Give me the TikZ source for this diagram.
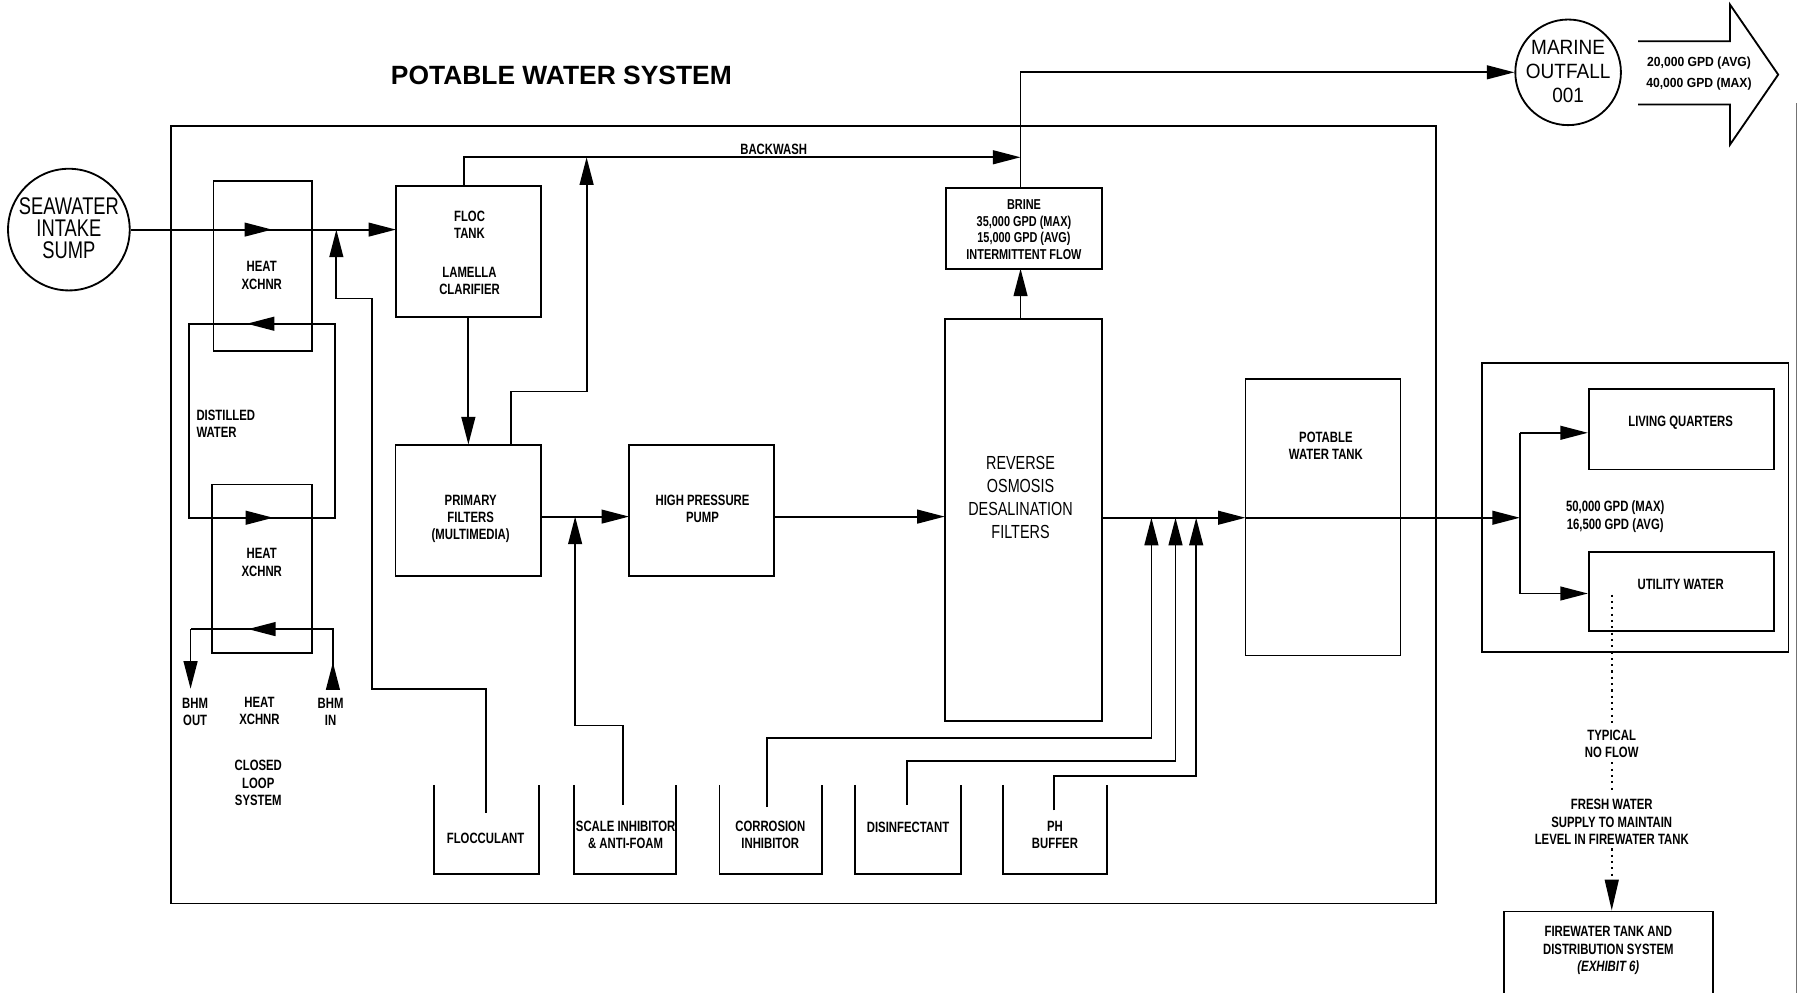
\documentclass[tikz,border=0pt]{standalone}
\usepackage{fontspec}
\setmainfont{Liberation Sans}
\newfontfamily\cad[FakeStretch=0.76]{Liberation Sans}
\newfontfamily\cadw[FakeStretch=0.92]{Liberation Sans}
\usetikzlibrary{arrows.meta,calc}
\tikzset{
  ln/.style={line width=1.6pt},
  arr/.style={line width=1.6pt, -{Triangle[length=24pt,width=12pt]}},
  bx/.style={draw, line width=1.6pt, inner sep=0pt},
  hid/.style={inner sep=0pt},
  lbl/.style={font=\cad\bfseries\fontsize{13}{15}\selectfont, align=center, inner sep=0pt},
  sml/.style={font=\cad\bfseries\fontsize{12.5}{14.5}\selectfont, align=center, inner sep=0pt},
  tinytxt/.style={font=\cadw\bfseries\fontsize{11.5}{18}\selectfont, align=center, inner sep=0pt},
  bigtxt/.style={font=\cad\fontsize{21}{19}\selectfont, align=center, inner sep=0pt},
  midtxt/.style={font=\cad\fontsize{16.5}{20}\selectfont, align=center, inner sep=0pt},
  outtxt/.style={font=\cadw\fontsize{18}{21}\selectfont, align=center, inner sep=0pt},
  ttl/.style={font=\bfseries\fontsize{23}{26}\selectfont, inner sep=0pt},
  dotline/.style={line width=1.9pt, dash pattern=on 1.9pt off 3.6pt},
}
\begin{document}
\begin{tikzpicture}[x=1pt,y=-1pt]
\useasboundingbox (0,0) rectangle (1568,865);
\fill[white] (0,0) rectangle (1568,865);

% scan edge
\draw[line width=0.8pt, black!55] (1565,90) -- (1565,865);

% title
\node[ttl] (title) at (489,66) {POTABLE WATER SYSTEM};

% main frame
\node[bx, minimum width=1102pt, minimum height=677pt] (frame) at (700,448.5) {};

% seawater intake
\node[circle, draw, line width=1.6pt, minimum size=106pt, inner sep=0pt] (sw) at (60,200) {};
\node[bigtxt] (swt) at (60,199) {SEAWATER\\INTAKE\\SUMP};

% heat exchangers
\node[bx, minimum width=86pt, minimum height=148pt] (hx1) at (229,232) {};
\node[lbl] (hx1t) at (228,240) {HEAT\\XCHNR};
\node[bx, minimum width=87pt, minimum height=147pt] (hx2) at (228.5,495.5) {};
\node[lbl] (hx2t) at (228,490) {HEAT\\XCHNR};

% distilled water loop
\coordinate (d1) at (165,282);
\coordinate (d2) at (292,282);
\coordinate (d3) at (292,451);
\coordinate (d4) at (165,451);
\draw[ln] (d1) -- (d4) -- (d3) -- (d2) -- cycle;
\coordinate (d1a) at (240,282); \coordinate (d1b) at (215,282);
\draw[arr] (d1a) -- (d1b);
\coordinate (d4a) at (214,451); \coordinate (d4b) at (238,451);
\draw[arr] (d4a) -- (d4b);
\node[lbl, anchor=west, align=left] (dw) at (171,369) {DISTILLED\\WATER};

% BHM closed loop
\coordinate (bin) at (290,600);
\coordinate (bin2) at (290,548);
\coordinate (bout2) at (166,548);
\coordinate (bout) at (166,600);
\draw[ln] (bin) -- (bin2) -- (bout2);
\draw[arr] (bout2) -- (bout);
\coordinate (bm1) at (240,548); \coordinate (bm2) at (216,548);
\draw[arr] (bm1) -- (bm2);
\coordinate (bin3) at (290,577);
\draw[arr] (bin) -- (bin3);
\node[lbl] (boutt) at (170,620) {BHM\\OUT};
\node[lbl] (hx3t) at (226,619) {HEAT\\XCHNR};
\node[lbl] (bint) at (288,620) {BHM\\IN};
\node[lbl] (cls) at (225,682) {CLOSED\\LOOP\\SYSTEM};

% floc tank and filters
\node[bx, minimum width=126pt, minimum height=114pt] (floc) at (408,219) {};
\node[lbl] (floct1) at (409,196) {FLOC\\TANK};
\node[lbl] (floct2) at (409,245) {LAMELLA\\CLARIFIER};
\node[bx, minimum width=127pt, minimum height=114pt] (prim) at (408,445) {};
\node[lbl] (primt) at (410,452) {PRIMARY\\FILTERS\\(MULTIMEDIA)};
\node[bx, minimum width=126pt, minimum height=114pt] (hp) at (611,445) {};
\node[lbl] (hpt) at (612,443) {HIGH PRESSURE\\PUMP};

% seawater line
\coordinate (swin) at (345,200);
\coordinate (sm1) at (213,200); \coordinate (sm2) at (237,200);
\draw[arr] (sw.east) -- (swin);
\draw[arr] (sm1) -- (sm2);

% chemical tanks (open top)
\node[hid, minimum width=91pt, minimum height=77pt] (flc) at (423.5,722.5) {};
\node[hid, minimum width=89pt, minimum height=77pt] (sca) at (544.5,722.5) {};
\node[hid, minimum width=89pt, minimum height=77pt] (cor) at (671.5,722.5) {};
\node[hid, minimum width=92pt, minimum height=77pt] (dis) at (791,722.5) {};
\node[hid, minimum width=90pt, minimum height=77pt] (phb) at (919,722.5) {};
\foreach \t in {flc,sca,cor,dis,phb}{
  \draw[ln] (\t.north west) -- (\t.south west) -- (\t.south east) -- (\t.north east);
}
\node[lbl] (flct) at (423,730) {FLOCCULANT};
\node[lbl] (scat) at (545,727) {SCALE INHIBITOR\\\& ANTI-FOAM};
\node[lbl] (cort) at (671,727) {CORROSION\\INHIBITOR};
\node[lbl] (dist) at (791,721) {DISINFECTANT};
\node[lbl] (phbt) at (919,727) {PH\\BUFFER};

% flocculant feed
\coordinate (f1) at (423,708);
\coordinate (f2) at (423,600);
\coordinate (f3) at (324,600);
\coordinate (f4) at (324,260);
\coordinate (f5) at (293,260);
\coordinate (f6) at (293,200);
\draw[arr] (f1) -- (f2) -- (f3) -- (f4) -- (f5) -- (f6);

% floc -> primary
\draw[arr] (floc.south) -- (prim.north);

% primary -> HP pump
\coordinate (p1) at (471.5,450);
\coordinate (p2) at (548,450);
\draw[arr] (p1) -- (p2);
% scale inhibitor feed
\coordinate (s1) at (543,701);
\coordinate (s2) at (543,632);
\coordinate (s3) at (501,632);
\coordinate (s4) at (501,450);
\draw[arr] (s1) -- (s2) -- (s3) -- (s4);

% RO unit
\node[bx, minimum width=137pt, minimum height=350pt] (ro) at (891.5,453) {};
\node[midtxt] (rot) at (889,433) {REVERSE\\OSMOSIS\\DESALINATION\\FILTERS};
\coordinate (h1) at (674,450);
\coordinate (h2) at (823,450);
\draw[arr] (h1) -- (h2);

% brine
\node[bx, minimum width=136pt, minimum height=70pt] (brine) at (892,199) {};
\node[sml] (brinet) at (892,200) {BRINE\\35,000 GPD (MAX)\\15,000 GPD (AVG)\\INTERMITTENT FLOW};
\coordinate (r1) at (889,278);
\coordinate (r2) at (889,234);
\draw[arr] (r1) -- (r2);

% marine outfall
\node[circle, draw, line width=1.6pt, minimum size=92pt, inner sep=0pt] (mo) at (1366,63) {};
\node[outtxt] (mot) at (1366,62) {MARINE\\OUTFALL\\001};
\coordinate (b1) at (889,164);
\coordinate (b2) at (889,63);
\draw[arr] (b1) -- (b2) -- (mo.west);

% backwash
\coordinate (w1) at (404,162);
\coordinate (w2) at (404,137);
\coordinate (w3) at (889,137);
\draw[arr] (w1) -- (w2) -- (w3);
\node[lbl] (bwt) at (674,130) {BACKWASH};
\coordinate (q1) at (445,388);
\coordinate (q2) at (445,341);
\coordinate (q3) at (511,341);
\coordinate (q4) at (511,137);
\draw[arr] (q1) -- (q2) -- (q3) -- (q4);

% big outfall arrow
\draw[line width=1.6pt, line join=miter] (1427,36) -- (1507,36) -- (1507,4) -- (1549,65) -- (1507,126) -- (1507,91) -- (1427,91);
\node[tinytxt] (oft) at (1480,64) {20,000 GPD (AVG)\\40,000 GPD (MAX)};

% potable water tank
\node[bx, minimum width=135pt, minimum height=241pt] (pot) at (1152.5,450.5) {};
\node[lbl] (pott) at (1155,388) {POTABLE\\WATER TANK};
\coordinate (m1) at (960,451);
\coordinate (m2) at (1085,451);
\coordinate (m3) at (1324,451);
\draw[arr] (m1) -- (m2);
\draw[arr] (m2) -- (m3);

% chemical feeds to product water
\coordinate (c1) at (668,703); \coordinate (c2) at (668,643);
\coordinate (c3) at (1003,643); \coordinate (c4) at (1003,451);
\draw[arr] (c1) -- (c2) -- (c3) -- (c4);
\coordinate (e1) at (790,701); \coordinate (e2) at (790,663);
\coordinate (e3) at (1024,663); \coordinate (e4) at (1024,451);
\draw[arr] (e1) -- (e2) -- (e3) -- (e4);
\coordinate (g1) at (918,706); \coordinate (g2) at (918,676);
\coordinate (g3) at (1042,676); \coordinate (g4) at (1042,451);
\draw[arr] (g1) -- (g2) -- (g3) -- (g4);

% users
\node[bx, minimum width=267pt, minimum height=252pt] (users) at (1424.5,442) {};
\node[bx, minimum width=161pt, minimum height=70pt] (lq) at (1464.5,374) {};
\node[lbl] (lqt) at (1464,368) {LIVING QUARTERS};
\node[bx, minimum width=161pt, minimum height=69pt] (uw) at (1464.5,515.5) {};
\node[lbl] (uwt) at (1464,509) {UTILITY WATER};
\node[lbl] (flowt) at (1407,450) {50,000 GPD (MAX)\\16,500 GPD (AVG)};
\coordinate (j1) at (1324,377);
\coordinate (j2) at (1324,517);
\draw[ln] (j1) -- (j2);
\draw[arr] (j1) -- (lq.west |- j1);
\draw[arr] (j2) -- (uw.west |- j2);

% firewater supply
\node[bx, minimum width=182pt, minimum height=78pt] (fire) at (1401,833) {};
\node[lbl] (firet) at (1401,828) {FIREWATER TANK AND\\DISTRIBUTION SYSTEM\\\itshape(EXHIBIT 6)};
\coordinate (t1) at (1404,518); \coordinate (t2) at (1404,630);
\coordinate (t3) at (1404,664); \coordinate (t4) at (1404,691);
\coordinate (t5) at (1404,739);
\draw[dotline] (t1) -- (t2);
\draw[dotline] (t3) -- (t4);
\draw[dotline, -{Triangle[length=27pt,width=12pt]}] (t5) -- (t5 |- fire.north);
\node[lbl] (tnf) at (1404,648) {TYPICAL\\NO FLOW};
\node[lbl] (tfw) at (1404,716) {FRESH WATER\\SUPPLY TO MAINTAIN\\LEVEL IN FIREWATER TANK};
\end{tikzpicture}
\end{document}
